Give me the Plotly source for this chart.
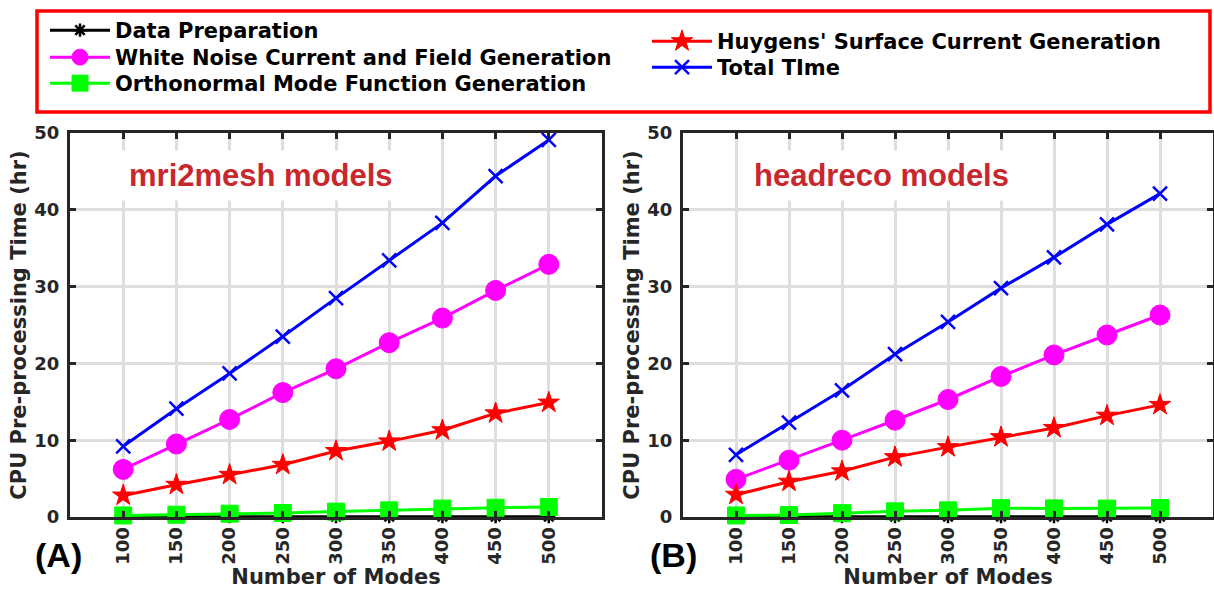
import plotly.graph_objects as go

modes = [100, 150, 200, 250, 300, 350, 400, 450, 500]
tick_labels = ["100", "150", "200", "250", "300", "350", "400", "450", "500"]

series_names = [
    "Data Preparation",
    "White Noise Current and Field Generation",
    "Orthonormal Mode Function Generation",
    "Huygens' Surface Current Generation",
    "Total TIme",
]

# Panel A: mri2mesh models
a_data_prep = [0.03, 0.03, 0.03, 0.03, 0.03, 0.03, 0.03, 0.03, 0.03]
a_data_prep_err = [0.3, 0.3, 0.3, 0.3, 0.3, 0.3, 0.3, 0.3, 0.3]
a_white_noise = [6.2, 9.5, 12.7, 16.2, 19.3, 22.7, 25.9, 29.5, 32.9]
a_orthonormal = [0.2, 0.3, 0.43, 0.52, 0.7, 0.87, 1.1, 1.2, 1.3]
a_huygens = [2.8, 4.2, 5.5, 6.8, 8.6, 9.85, 11.3, 13.5, 14.9]
a_total = [9.2, 14.1, 18.7, 23.5, 28.5, 33.4, 38.3, 44.4, 49.1]

# Panel B: headreco models
b_data_prep = [0.03, 0.03, 0.03, 0.03, 0.03, 0.03, 0.03, 0.03, 0.03]
b_data_prep_err = [0.3, 0.3, 0.3, 0.3, 0.3, 0.3, 0.3, 0.3, 0.3]
b_white_noise = [4.9, 7.4, 10.0, 12.6, 15.3, 18.3, 21.1, 23.7, 26.3]
b_orthonormal = [0.2, 0.26, 0.5, 0.74, 0.87, 1.15, 1.12, 1.1, 1.17]
b_huygens = [2.9, 4.6, 5.95, 7.8, 9.1, 10.4, 11.6, 13.2, 14.6]
b_total = [8.1, 12.3, 16.5, 21.2, 25.4, 29.8, 33.8, 38.1, 42.1]

panel_titles = ["mri2mesh models", "headreco models"]
panel_labels = ["(A)", "(B)"]
x_title = "Number of Modes"
y_title = "CPU Pre-processing Time (hr)"

colors = ["#000000", "#FF00FF", "#00FF00", "#FF0000", "#0000FF"]
symbols = ["asterisk-open", "circle", "square", "star", "x-thin-open"]
msizes = [11, 20, 17, 16, 14]
legend_ids = ["legend", "legend2", "legend3", "legend4", "legend5"]

fig = go.Figure()

panels = [
    ("x", "y", [a_data_prep, a_white_noise, a_orthonormal, a_huygens, a_total], a_data_prep_err),
    ("x2", "y2", [b_data_prep, b_white_noise, b_orthonormal, b_huygens, b_total], b_data_prep_err),
]

for pi, (xa, ya, ys, err) in enumerate(panels):
    for si, vals in enumerate(ys):
        sym = symbols[si]
        if sym.endswith("open"):
            marker = dict(symbol=sym, size=msizes[si], color=colors[si],
                          line=dict(color=colors[si], width=2.5))
        else:
            marker = dict(symbol=sym, size=msizes[si], color=colors[si],
                          line=dict(color=colors[si], width=1))
        tr = go.Scatter(
            x=modes, y=vals, mode="lines+markers",
            name=series_names[si],
            line=dict(color=colors[si], width=3),
            marker=marker,
            xaxis=xa, yaxis=ya,
            cliponaxis=False,
            showlegend=(pi == 0),
            legend=legend_ids[si],
        )
        if si == 0:
            tr.error_y = dict(type="data", array=err, color=colors[0], thickness=2, width=5)
        fig.add_trace(tr)

axis_font = dict(family="DejaVu Sans", size=18, color="#262626", weight="bold")
title_axis_font = dict(family="DejaVu Sans", size=21, color="#262626", weight="bold")
common_x = dict(
    range=[50, 550], tickmode="array", tickvals=modes, ticktext=tick_labels,
    tickangle=-90, showgrid=True, gridcolor="#DEDEDE", gridwidth=3,
    showline=True, linecolor="#262626", linewidth=3, mirror="ticks",
    ticks="inside", ticklen=6, tickwidth=3, tickcolor="#262626",
    tickfont=axis_font, zeroline=False, automargin=False,
    title=dict(text=x_title, font=title_axis_font, standoff=3),
)
common_y = dict(
    range=[0, 50], tickvals=[0, 10, 20, 30, 40, 50], showgrid=True,
    gridcolor="#DEDEDE", gridwidth=3, showline=True, linecolor="#262626",
    linewidth=3, mirror="ticks", ticks="inside", ticklen=6, tickwidth=3,
    tickcolor="#262626", tickfont=axis_font, zeroline=False, automargin=False,
    ticklabelstandoff=4,
    title=dict(text=y_title, font=title_axis_font, standoff=2),
)

W, H = 1214, 589
leg_font = dict(family="DejaVu Sans", size=21, color="black", weight="bold")
# legend anchor positions (left px, row-centre px)
leg_pos = [(45, 31), (45, 58), (45, 84), (647, 42), (647, 68)]

layout_legends = {}
for lid, (lx, ly) in zip(legend_ids, leg_pos):
    layout_legends[lid] = dict(
        x=lx / W, y=1 - (ly - 21) / H, xanchor="left", yanchor="top",
        bgcolor="rgba(0,0,0,0)", borderwidth=0, itemwidth=60,
        font=leg_font)

fig.update_layout(
    width=W, height=H,
    margin=dict(l=0, r=0, t=0, b=0, autoexpand=False),
    paper_bgcolor="white", plot_bgcolor="white",
    xaxis=dict(domain=[70 / W, 602 / W], anchor="y", **common_x),
    yaxis=dict(domain=[72 / H, 456 / H], anchor="x", **common_y),
    xaxis2=dict(domain=[683 / W, 1213 / W], anchor="y2", **common_x),
    yaxis2=dict(domain=[72 / H, 456 / H], anchor="x2", **common_y),
    shapes=[dict(type="rect", xref="paper", yref="paper",
                 x0=37 / W, x1=1210 / W, y0=1 - 112 / H, y1=1 - 11 / H,
                 line=dict(color="#FF0000", width=3.5), fillcolor="rgba(0,0,0,0)")],
    **layout_legends,
)

title_font = dict(family="Liberation Sans, Arial", size=31, color="#C8282D", weight="bold")
for txt, cx in zip(panel_titles, [261, 881]):
    fig.add_annotation(x=cx / W, y=1 - 176 / H, xref="paper", yref="paper",
                       xanchor="center", yanchor="middle",
                       text=txt, showarrow=False, font=title_font,
                       bgcolor="white", borderpad=7)
lab_font = dict(family="Liberation Sans, Arial", size=34, color="black", weight="bold")
for txt, cx in zip(panel_labels, [58, 673]):
    fig.add_annotation(x=cx / W, y=1 - 555 / H, xref="paper", yref="paper",
                       xanchor="center", yanchor="middle",
                       text=txt, showarrow=False, font=lab_font)

fig.write_html("out.html")
